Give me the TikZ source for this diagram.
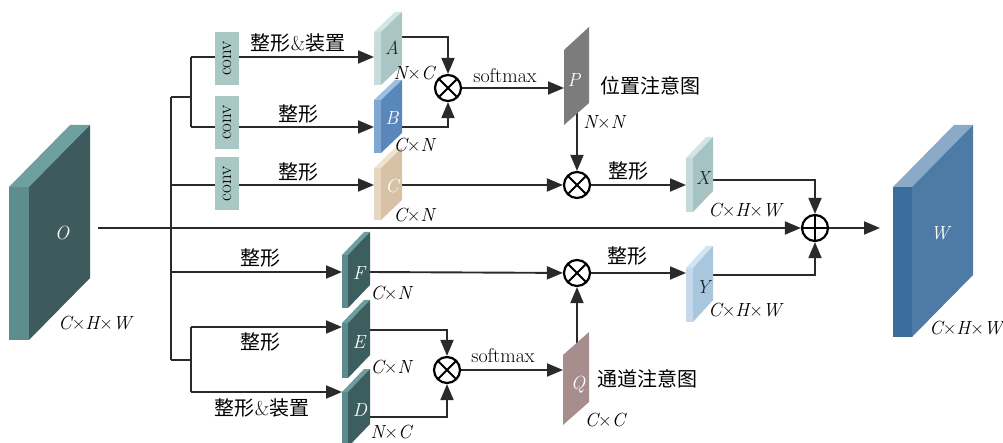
\documentclass[tikz,border=0pt]{standalone}
\usepackage{fontspec}
\newfontfamily\cjk{Noto Sans CJK SC}
\usetikzlibrary{arrows.meta}
\pgfdeclarelayer{bg}
\pgfsetlayers{bg,main}
\definecolor{lnc}{HTML}{2A2A2A}
\definecolor{Oface}{HTML}{3D5B5C}\definecolor{Oside}{HTML}{5E8D8E}\definecolor{Otop}{HTML}{6FA0A0}
\definecolor{Wface}{HTML}{4E7BA5}\definecolor{Wside}{HTML}{3A6C9C}\definecolor{Wtop}{HTML}{8BAAC8}
\definecolor{Aface}{HTML}{A9C5C4}\definecolor{Aside}{HTML}{C7DCDB}\definecolor{Atop}{HTML}{D3E5E4}
\definecolor{Bface}{HTML}{5A87BA}\definecolor{Bside}{HTML}{7FA7D3}\definecolor{Btop}{HTML}{9DBFE2}
\definecolor{Cface}{HTML}{D7C2A6}\definecolor{Cside}{HTML}{E6D7C2}\definecolor{Ctop}{HTML}{EEE2D0}
\definecolor{Fface}{HTML}{3D5E5F}\definecolor{Fside}{HTML}{5C8B8C}\definecolor{Ftop}{HTML}{6D9D9D}
\definecolor{Xface}{HTML}{A6C3C3}\definecolor{Xside}{HTML}{C5DADA}\definecolor{Xtop}{HTML}{D3E4E4}
\definecolor{Yface}{HTML}{A8C6DE}\definecolor{Yside}{HTML}{C4DAEC}\definecolor{Ytop}{HTML}{D4E5F2}
\definecolor{Pface}{HTML}{7C7C7C}
\definecolor{Qface}{HTML}{A78D8B}
\definecolor{convc}{HTML}{A9C8C5}
\newcommand\slab[9]{%
  \fill[#8] (#1-#6,#2) rectangle (#1,#2+#5);
  \fill[#9] (#1-#6,#2) -- ++(#3,-#4) -- ++(#6,0) -- (#1,#2) -- cycle;
  \fill[#7] (#1,#2) -- ++(#3,-#4) -- ++(0,#5) -- ++(-#3,#4) -- cycle;
}
\newcommand\iv[1]{{\itshape #1}}
\begin{document}
\begin{tikzpicture}[x=1pt,y=-1pt,
  ln/.style={draw=lnc,line width=1.9pt},
  arr/.style={-{Triangle[length=16pt,width=13pt]}},
  lab/.style={font=\fontsize{19}{21}\selectfont,inner sep=0pt},
  wlab/.style={lab,text=white},
  zh/.style={font=\cjk\fontsize{20}{22}\selectfont,inner sep=0pt},
  convbox/.style={fill=convc,minimum width=53pt,minimum height=24pt,inner sep=0pt,rotate=90,font=\fontsize{19}{20}\selectfont},
  mul/.style={circle,draw=black,fill=white,line width=2.2pt,minimum size=26pt,inner sep=0pt,
    path picture={\draw[line width=1.8pt] (path picture bounding box.north west) -- (path picture bounding box.south east)
      (path picture bounding box.north east) -- (path picture bounding box.south west);}},
  add/.style={circle,draw=black,fill=white,line width=2.2pt,minimum size=26pt,inner sep=0pt,
    path picture={\draw[line width=1.1pt] (path picture bounding box.north) -- (path picture bounding box.south)
      (path picture bounding box.east) -- (path picture bounding box.west);}}]
\useasboundingbox (0,0) rectangle (1003,443);

% operators
\node[mul] (m1) at (448,88) {};
\node[mul] (m2) at (577,185) {};
\node[mul] (m3) at (577,273) {};
\node[mul] (m4) at (447,370) {};
\node[add] (plus) at (815,228) {};

% conv boxes
\node[convbox] (cv1) at (227,58.5) {conv};
\node[convbox] (cv2) at (227,122.5) {conv};
\node[convbox] (cv3) at (227,184) {conv};

% coordinates
\coordinate (t1) at (171,97);
\coordinate (t2) at (171,360);
\coordinate (j1) at (191,97);
\coordinate (s1) at (191,57);
\coordinate (s2) at (191,127);
\coordinate (tc) at (171,185);
\coordinate (tf) at (171,272);
\coordinate (j2) at (191,360);
\coordinate (s3) at (191,327);
\coordinate (s4) at (191,392);
\coordinate (Oout) at (98,228);
\coordinate (Ain) at (374,57);
\coordinate (Aout) at (400,37);
\coordinate (Bin) at (374,127);
\coordinate (Bout) at (400,127);
\coordinate (Cin) at (374,185);
\coordinate (Cout) at (400,185);
\coordinate (Pin) at (564,88);
\coordinate (Pout) at (577,112);
\coordinate (Xin) at (686,185);
\coordinate (Xout) at (711,180);
\coordinate (Win) at (880,228);
\coordinate (Fin) at (342,272);
\coordinate (Fout) at (368,272);
\coordinate (Ein) at (342,327);
\coordinate (Eout) at (368,330);
\coordinate (Din) at (342,392);
\coordinate (Dout) at (368,417);
\coordinate (Qin) at (563,370);
\coordinate (Qout) at (577,345);
\coordinate (Yin) at (686,273);
\coordinate (Yout) at (711,275);

\begin{pgfonlayer}{bg}
\draw[ln] (t1) -- (t2);
\draw[ln] (t1) -- (j1);
\draw[ln] (s1) -- (s2);
\draw[ln,arr] (s1) -- (Ain);
\draw[ln,arr] (s2) -- (Bin);
\draw[ln,arr] (tc) -- (Cin);
\draw[ln,arr] (Aout) -| (m1);
\draw[ln,arr] (Bout) -| (m1);
\draw[ln,arr] (m1) -- (Pin);
\draw[ln,arr] (Pout) -- (m2);
\draw[ln,arr] (Cout) -- (m2);
\draw[ln,arr] (m2) -- (Xin);
\draw[ln,arr] (Xout) -| (plus);
\draw[ln,arr] (Oout) -- (plus);
\draw[ln,arr] (plus) -- (Win);
\draw[ln,arr] (tf) -- (Fin);
\draw[ln] (t2) -- (j2);
\draw[ln] (s3) -- (s4);
\draw[ln,arr] (s3) -- (Ein);
\draw[ln,arr] (s4) -- (Din);
\draw[ln,arr] (Fout) -- (m3);
\draw[ln,arr] (Eout) -| (m4);
\draw[ln,arr] (Dout) -| (m4);
\draw[ln,arr] (m4) -- (Qin);
\draw[ln,arr] (Qout) -- (m3);
\draw[ln,arr] (m3) -- (Yin);
\draw[ln,arr] (Yout) -| (plus);
\end{pgfonlayer}

% slabs: xl, yt, w, s, h, t, face, side, top
\slab{29}{187}{61}{62}{153}{20}{Oface}{Oside}{Otop}
\slab{912}{187}{61}{62}{150}{19}{Wface}{Wside}{Wtop}
\slab{381}{32}{21}{20}{53}{7}{Aface}{Aside}{Atop}
\slab{381}{100}{21}{20}{53}{7}{Bface}{Bside}{Btop}
\slab{381}{168}{21}{20}{52}{7}{Cface}{Cside}{Ctop}
\slab{348}{255}{22}{23}{53}{6}{Fface}{Fside}{Ftop}
\slab{348}{323}{22}{23}{55}{6}{Fface}{Fside}{Ftop}
\slab{348}{392}{22}{23}{55}{6}{Fface}{Fside}{Ftop}
\slab{693}{158}{20}{21}{54}{7}{Xface}{Xside}{Xtop}
\slab{693}{268}{20}{22}{54}{7}{Yface}{Yside}{Ytop}
\fill[Pface] (564,50) -- (589,27) -- (589,103) -- (564,125) -- cycle;
\fill[Qface] (563,355) -- (589,332) -- (589,402) -- (563,425) -- cycle;

% labels
\node[wlab] (lO) at (62,233) {\iv{O}};
\node[lab] (dO) at (95,323) {\iv{C}×\iv{H}×\iv{W}};
\node[wlab] (lW) at (940,233) {\iv{W}};
\node[lab] (dW) at (966,328) {\iv{C}×\iv{H}×\iv{W}};
\node[lab,text=black!85] (lA) at (392,48) {\iv{A}};
\node[lab] (dA) at (414,73) {\iv{N}×\iv{C}};
\node[wlab] (lB) at (392,118) {\iv{B}};
\node[lab] (dB) at (414,145) {\iv{C}×\iv{N}};
\node[wlab] (lC) at (392,186) {\iv{C}};
\node[lab] (dC) at (414,215) {\iv{C}×\iv{N}};
\node[lab,font=\fontsize{20}{22}\selectfont] (sm1) at (505,76) {softmax};
\node[wlab] (lP) at (574,80) {\iv{P}};
\node[zh] (zP) at (650,86) {位置注意图};
\node[lab] (dP) at (604,122) {\iv{N}×\iv{N}};
\node[zh] (z5) at (628,171) {整形};
\node[lab,text=black!85] (lX) at (703,178) {\iv{X}};
\node[lab] (dX) at (745,210) {\iv{C}×\iv{H}×\iv{W}};
\node[zh] (z1) at (298,43) {整形{\rmfamily\&}装置};
\node[zh] (z2) at (298,114) {整形};
\node[zh] (z3) at (298,172) {整形};
\node[zh] (z4) at (260,258) {整形};
\node[wlab] (lF) at (359,273) {\iv{F}};
\node[lab] (dF) at (391,293) {\iv{C}×\iv{N}};
\node[zh] (z6) at (627,256) {整形};
\node[lab,text=black!85] (lY) at (703,287) {\iv{Y}};
\node[lab] (dY) at (745,310) {\iv{C}×\iv{H}×\iv{W}};
\node[zh] (z7) at (260,342) {整形};
\node[wlab] (lE) at (359,342) {\iv{E}};
\node[lab] (dE) at (391,367) {\iv{C}×\iv{N}};
\node[zh] (z8) at (262,408) {整形{\rmfamily\&}装置};
\node[wlab] (lD) at (360,410) {\iv{D}};
\node[lab] (dD) at (391,432) {\iv{N}×\iv{C}};
\node[lab,font=\fontsize{20}{22}\selectfont] (sm2) at (503,356) {softmax};
\node[wlab] (lQ) at (578,385) {\iv{Q}};
\node[zh] (zQ) at (647,379) {通道注意图};
\node[lab] (dQ) at (605,420) {\iv{C}×\iv{C}};
\end{tikzpicture}
\end{document}
